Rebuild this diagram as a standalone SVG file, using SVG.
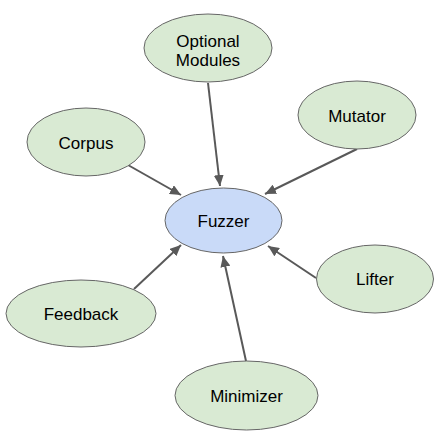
<svg xmlns="http://www.w3.org/2000/svg" width="440" height="438" viewBox="0 0 440 438">
<style>
.n{fill:#d9ead3;stroke:#666666;stroke-width:1}
.c{fill:#c9daf8;stroke:#666666;stroke-width:1}
.t{font-family:"Liberation Sans",Arial,sans-serif;font-size:17px;fill:#000000;text-anchor:middle}
.e{stroke:#595959;stroke-width:2;fill:none;marker-end:url(#arr)}
</style>
<defs>
<marker id="arr" markerUnits="userSpaceOnUse" markerWidth="12" markerHeight="10" refX="11" refY="5" orient="auto">
<path d="M0,0 L11,5 L0,10 z" fill="#595959"/>
</marker>
</defs>
<g id="connectors">
<line class="e" x1="208" y1="83" x2="220" y2="186"/>
<line class="e" x1="128" y1="165" x2="181" y2="195"/>
<line class="e" x1="357" y1="149" x2="265" y2="194"/>
<line class="e" x1="134" y1="289" x2="181" y2="245"/>
<line class="e" x1="316" y1="278" x2="268" y2="246"/>
<line class="e" x1="246" y1="361" x2="223" y2="256"/>
</g>
<g id="fuzzer"><ellipse class="c" cx="223.5" cy="220.5" rx="58.5" ry="32.5"/><text class="t" x="223.5" y="226.5">Fuzzer</text></g>
<g id="optional-modules"><ellipse class="n" cx="208" cy="48" rx="64" ry="34"/><text class="t" x="208" y="46.5">Optional</text><text class="t" x="208" y="65.5">Modules</text></g>
<g id="corpus"><ellipse class="n" cx="86" cy="142" rx="59" ry="34"/><text class="t" x="86" y="148.5">Corpus</text></g>
<g id="mutator"><ellipse class="n" cx="357" cy="115" rx="59" ry="34"/><text class="t" x="357" y="121.5">Mutator</text></g>
<g id="feedback"><ellipse class="n" cx="81" cy="313.5" rx="75" ry="33.5"/><text class="t" x="81" y="319.5">Feedback</text></g>
<g id="lifter"><ellipse class="n" cx="375" cy="279" rx="58.5" ry="34"/><text class="t" x="375" y="285">Lifter</text></g>
<g id="minimizer"><ellipse class="n" cx="246.5" cy="395.5" rx="71.5" ry="34.5"/><text class="t" x="246.5" y="401.5">Minimizer</text></g>
</svg>
